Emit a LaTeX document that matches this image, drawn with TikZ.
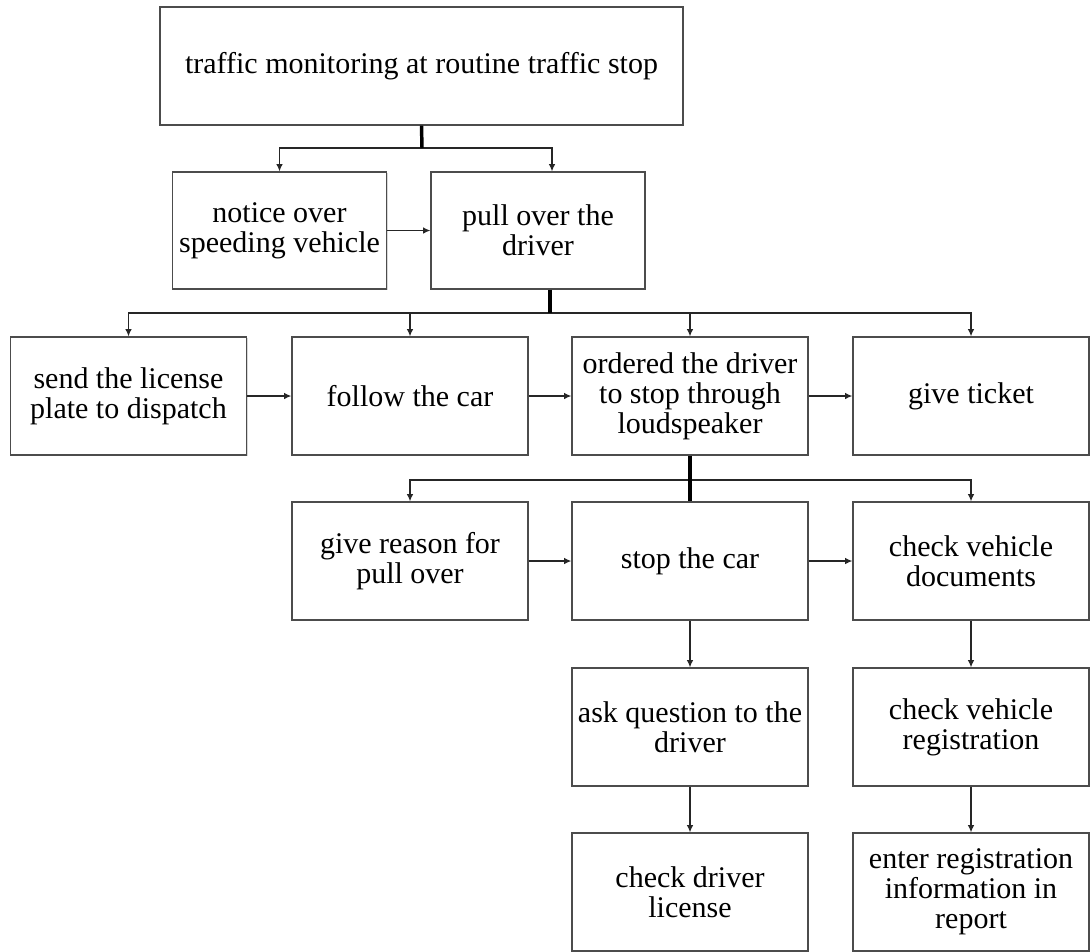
\documentclass[tikz,border=0pt]{standalone}
\usepackage{fontspec}
\setmainfont{Liberation Serif}
\usetikzlibrary{arrows.meta,shadows}

\tikzset{
  box/.style={draw=black!70, line width=1pt, fill=white,
    minimum width=177pt, minimum height=88.5pt, inner sep=2pt,
    align=center, font=\fontsize{22.5}{22.5}\selectfont,
    drop shadow={shadow xshift=0.9pt, shadow yshift=-0.9pt, fill=black!30}},
  link/.style={draw=black!85, line width=0.9pt,
    -{Latex[length=5.5pt,width=5pt]}},
  trunk/.style={draw=black, line width=2.6pt},
}

\begin{document}
\begin{tikzpicture}[x=0.75pt, y=-0.75pt]
  \useasboundingbox[fill=white] (0,0) rectangle (1091,951);

  % boxes
  \node[box, minimum width=392.25pt] (top) at (421.5,66)
    {traffic monitoring at routine traffic stop};
  \node[box, minimum width=160.5pt, minimum height=87.75pt] (notice) at (279.5,230.5)
    {notice over\\speeding vehicle};
  \node[box, minimum width=160.5pt, minimum height=87.75pt] (pull) at (538,230.5)
    {pull over the\\driver};

  \node[box] (send) at (128.5,396) {send the license\\plate to dispatch};
  \node[box] (follow) at (410,396) {follow the car};
  \node[box] (ordered) at (690,396) {ordered the driver\\to stop through\\loudspeaker};
  \node[box] (ticket) at (971,396) {give ticket};

  \node[box] (reason) at (410,561) {give reason for\\pull over};
  \node[box] (stop) at (690,561) {stop the car};
  \node[box] (docs) at (971,561) {check vehicle\\documents};

  \node[box] (ask) at (690,727) {ask question to the\\driver};
  \node[box] (reg) at (971,727) {check vehicle\\registration};

  \node[box] (license) at (690,892) {check driver\\license};
  \node[box] (enter) at (971,892) {enter registration\\information in\\report};

  % branch junctions
  \coordinate (j1) at (422,148);
  \coordinate (j2) at (550,313);
  \coordinate (j3) at (690,480);

  % first level
  \draw[link] (j1) -| (notice.north);
  \draw[link] (j1) -| ([xshift=10.5pt]pull.north);
  \draw[trunk] (top.south) -- (j1);
  \draw[link] (notice.east) -- (pull.west);

  % second level
  \draw[link] (j2) -| (send.north);
  \draw[link] (j2) -| (follow.north);
  \draw[link] (j2) -| (ordered.north);
  \draw[link] (j2) -| (ticket.north);
  \draw[trunk] ([xshift=9pt]pull.south) -- (j2);
  \draw[link] (send) -- (follow);
  \draw[link] (follow) -- (ordered);
  \draw[link] (ordered) -- (ticket);

  % third level
  \draw[link] (j3) -| (reason.north);
  \draw[link] (j3) -| (docs.north);
  \draw[trunk] (ordered.south) -- (stop.north);
  \draw[link] (reason) -- (stop);
  \draw[link] (stop) -- (docs);

  % lower columns
  \draw[link] (stop) -- (ask);
  \draw[link] (ask) -- (license);
  \draw[link] (docs) -- (reg);
  \draw[link] (reg) -- (enter);
\end{tikzpicture}
\end{document}
